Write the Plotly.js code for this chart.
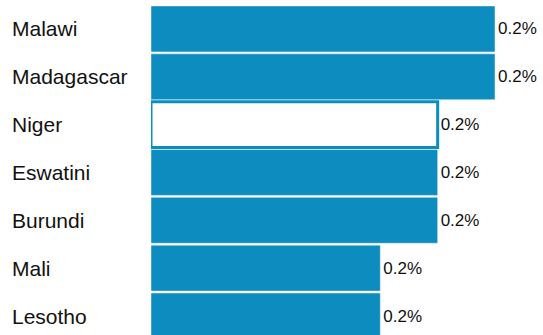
<!DOCTYPE html>
<html>
<head>
<meta charset="utf-8">
<script src="https://cdn.plot.ly/plotly-3.0.1.min.js"></script>
<style>
html,body{margin:0;padding:0;background:#fff;}
#chart{width:543px;height:335px;}
</style>
</head>
<body>
<div id="chart"></div>
<script>
var countries = ["Malawi", "Madagascar", "Niger", "Eswatini", "Burundi", "Mali", "Lesotho"];
var shares = [0.24, 0.24, 0.20, 0.20, 0.20, 0.16, 0.16];
var highlighted = "Niger";

var BLUE = "#0d8dbf";
var fills = countries.map(function(c){ return c === highlighted ? "#ffffff" : BLUE; });
var lineColors = countries.map(function(c){ return c === highlighted ? BLUE : "rgba(255,255,255,0.45)"; });
var lineWidths = countries.map(function(c){ return c === highlighted ? 3 : 1; });

var trace = {
  type: "bar",
  orientation: "h",
  x: shares,
  y: countries,
  marker: {color: fills, line: {color: lineColors, width: lineWidths}},
  texttemplate: "%{x:.1f}%",
  textposition: "outside",
  constraintext: "none",
  cliponaxis: false,
  textfont: {family: "Liberation Sans, Arial, sans-serif", size: 17, color: "#111"},
  hoverinfo: "none"
};

var annotations = countries.map(function(c){
  return {
    xref: "paper", yref: "y", x: -141/344, y: c,
    xanchor: "left", yanchor: "middle",
    text: c, showarrow: false,
    font: {family: "Liberation Sans, Arial, sans-serif", size: 21, color: "#111"}
  };
});

var layout = {
  width: 543, height: 335,
  margin: {l: 151, r: 48, t: 5, b: 0, pad: 0},
  paper_bgcolor: "#fff", plot_bgcolor: "#fff",
  bargap: 0.04,
  showlegend: false,
  xaxis: {range: [0, 0.24], visible: false, fixedrange: true},
  yaxis: {type: "category", categoryorder: "array", categoryarray: countries,
          range: [6.397, -0.5], showticklabels: false, showgrid: false,
          zeroline: false, showline: false, ticks: ""},
  annotations: annotations
};

Plotly.newPlot("chart", [trace], layout, {staticPlot: true, displayModeBar: false});
</script>
</body>
</html>
